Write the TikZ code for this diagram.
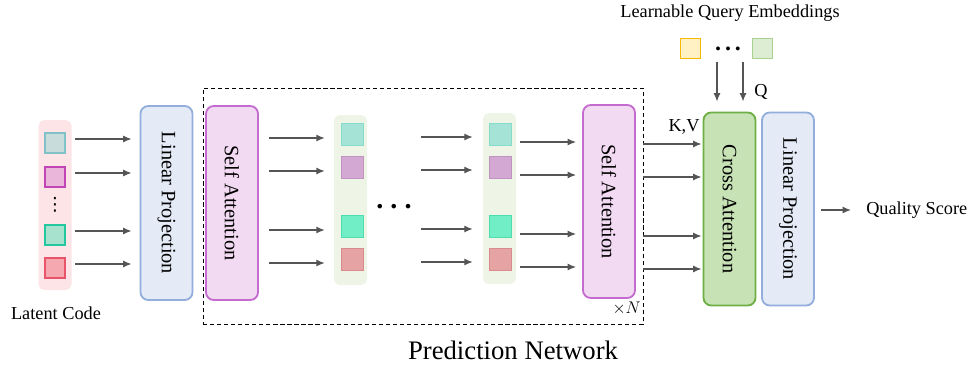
\documentclass[tikz,border=0pt]{standalone}
\usepackage{fontspec}
\setmainfont{Liberation Serif}
\newfontfamily\symfont{DejaVu Sans}
\usepackage{graphicx}
\usetikzlibrary{arrows.meta}

\newlength\pxu
\setlength\pxu{0.025cm}

\definecolor{arrowgray}{HTML}{555555}
\definecolor{pinkbg}{HTML}{FDE4E6}
\definecolor{colbg}{HTML}{EEF4E6}
\definecolor{lpfill}{HTML}{E4EAF6}
\definecolor{lpdraw}{HTML}{93AEDD}
\definecolor{safill}{HTML}{F3DAF3}
\definecolor{sadraw}{HTML}{C46BCF}
\definecolor{cafill}{HTML}{C7E2B5}
\definecolor{cadraw}{HTML}{6DAE45}
% latent tokens
\definecolor{lafill}{HTML}{C9DCDC}\definecolor{ladraw}{HTML}{80C2C8}
\definecolor{lbfill}{HTML}{EAB6DA}\definecolor{lbdraw}{HTML}{C245B5}
\definecolor{lcfill}{HTML}{A6E2CE}\definecolor{lcdraw}{HTML}{23C89E}
\definecolor{ldfill}{HTML}{F6A8B0}\definecolor{lddraw}{HTML}{E9546B}
% hidden tokens
\definecolor{mafill}{HTML}{A6E3D7}\definecolor{madraw}{HTML}{86DCCB}
\definecolor{mbfill}{HTML}{D3A9D3}\definecolor{mbdraw}{HTML}{C193C1}
\definecolor{mcfill}{HTML}{72EEC7}\definecolor{mcdraw}{HTML}{4EDDB0}
\definecolor{mdfill}{HTML}{E5A3A3}\definecolor{mddraw}{HTML}{D98A8A}
% queries
\definecolor{qafill}{HTML}{FFF1C4}\definecolor{qadraw}{HTML}{F6B900}
\definecolor{qbfill}{HTML}{DCEDD3}\definecolor{qbdraw}{HTML}{AAD190}

\tikzset{
    block/.style={draw, rounded corners=5.5pt, line width=1.3pt, inner sep=0pt,
        minimum width=52\pxu, minimum height=193\pxu, font=\fontsize{14.5}{16}\selectfont},
    tokbg/.style={rounded corners=4pt, inner sep=0pt, minimum width=33\pxu, minimum height=170\pxu},
    tok/.style={draw, line width=1.9pt, minimum size=20\pxu, inner sep=0pt},
    midtok/.style={draw, line width=0.6pt, minimum size=22\pxu, inner sep=0pt},
    flow/.style={-{Latex[length=6pt, width=5pt]}, draw=arrowgray, line width=0.9pt},
    lbl/.style={font=\fontsize{13}{15}\selectfont, inner sep=0pt},
}

\begin{document}
\begin{tikzpicture}[x=0.025cm, y=-0.025cm]
        \useasboundingbox (0, 0) rectangle (976, 368);

        % Latent code
        \node[tokbg, fill=pinkbg] (latbg) at (55, 205) {};
        \node[tok, fill=lafill, draw=ladraw] (l1) at (55, 143) {};
        \node[tok, fill=lbfill, draw=lbdraw] (l2) at (55, 177) {};
        \node[font=\fontsize{13}{13}\selectfont, inner sep=0pt] (ldots) at (55, 205) {\symfont ⋮};
        \node[tok, fill=lcfill, draw=lcdraw] (l3) at (55, 235) {};
        \node[tok, fill=ldfill, draw=lddraw] (l4) at (55, 268) {};
        \node[lbl] (latlabel) at (56, 313) {Latent Code};

        % Blocks
        \node[block, fill=lpfill, draw=lpdraw, minimum height=194\pxu] (lp1) at (166.5, 203) {\rotatebox{-90}{Linear Projection}};
        \node[draw, dashed, line width=0.7pt, dash pattern=on 3pt off 2pt, minimum width=440\pxu, minimum height=236\pxu] (net) at (423, 206) {};
        \node[block, fill=safill, draw=sadraw, minimum height=194\pxu] (sa1) at (232, 203) {\rotatebox{-90}{Self Attention}};
        \node[block, fill=safill, draw=sadraw] (sa2) at (609, 201.5) {\rotatebox{-90}{Self Attention}};
        \node[block, fill=cafill, draw=cadraw] (ca) at (729.5, 209) {\rotatebox{-90}{Cross Attention}};
        \node[block, fill=lpfill, draw=lpdraw] (lp2) at (788, 209) {\rotatebox{-90}{Linear Projection}};

        % Hidden tokens
        \node[tokbg, fill=colbg] (cbg1) at (350.5, 200) {};
        \node[tokbg, fill=colbg, minimum height=171\pxu] (cbg2) at (499.5, 198.5) {};
        \foreach \c/\x in {1/352, 2/500.5} {
            \node[midtok, fill=mafill, draw=madraw] (c\c1) at (\x, 134) {};
            \node[midtok, fill=mbfill, draw=mbdraw] (c\c2) at (\x, 167) {};
            \node[midtok, fill=mcfill, draw=mcdraw] (c\c3) at (\x, 226) {};
            \node[midtok, fill=mdfill, draw=mddraw] (c\c4) at (\x, 259) {};
        }
        \node[font=\fontsize{20}{20}\bfseries, inner sep=0pt] (mid) at (394, 207) {.\hspace{5pt}.\hspace{5pt}.};
        \node[font=\fontsize{13}{15}\selectfont, inner sep=0pt, anchor=east] (times) at (641, 308) {$\times N$};

        % Arrows
        \foreach \i in {1, ..., 4} {
            \draw[flow, shorten >=8\pxu] (l\i.east) ++(9, -4) coordinate (s) -- (s -| lp1.west);
            \draw[flow, shorten >=9\pxu] (c1\i.west -| sa1.east) ++(10, 4) coordinate (s) -- (s -| cbg1.west);
            \draw[flow, shorten >=10\pxu] (c2\i.west -| mid.east) ++(9, 3) coordinate (s) -- (s -| cbg2.west);
            \draw[flow, shorten >=6\pxu] (c2\i.east -| cbg2.east) ++(4, 8) coordinate (s) -- (s -| sa2.west);
            \draw[flow, shorten >=1\pxu] (c2\i.east -| net.east) ++(0, 10) coordinate (s) -- (s -| ca.west);
        }
        \node[lbl] (kv) at (684, 127) {K,V};

        % Learnable queries
        \node[lbl] (qlabel) at (730, 13) {Learnable Query Embeddings};
        \node[tok, line width=1.4pt, fill=qafill, draw=qadraw] (q1) at (690.5, 48.5) {};
        \node[font=\fontsize{17}{17}\bfseries, inner sep=0pt] (qdots) at (728, 49) {.\hspace{2.8pt}.\hspace{2.8pt}.};
        \node[tok, line width=1.4pt, fill=qbfill, draw=qbdraw] (q2) at (762.5, 48.5) {};
        \path (ca.north) ++(-12.5, -50) coordinate (qa);
        \path (ca.north) ++(13.5, -50) coordinate (qb);
        \draw[flow, shorten >=10\pxu] (qa) -- (qa |- ca.north);
        \draw[flow, shorten >=10\pxu] (qb) -- (qb |- ca.north);
        \node[lbl] (qq) at (761, 92) {Q};

        % Output
        \node[lbl, anchor=west] (score) at (866, 210) {Quality Score};
        \draw[flow, shorten <=6\pxu, shorten >=15\pxu] (lp2.east |- score.west) -- (score.west);

        \node[font=\fontsize{19}{22}\selectfont, inner sep=0pt] (title) at (513, 350) {Prediction Network};

    \end{tikzpicture}
\end{document}
